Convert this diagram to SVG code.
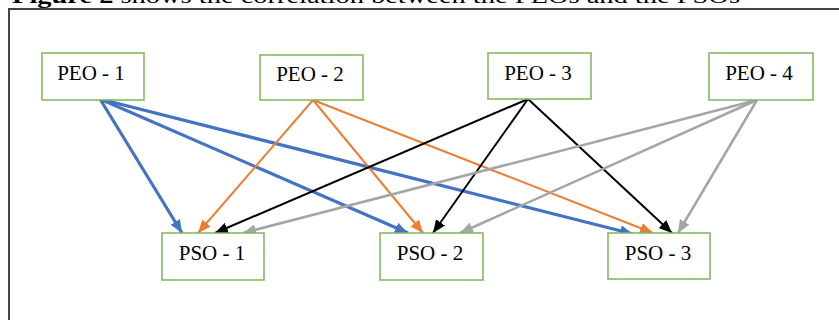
<svg xmlns="http://www.w3.org/2000/svg" width="839" height="320" viewBox="0 0 839 320">
<style>
.box{fill:#fff;stroke:#7DB55A;stroke-width:1.5}
.lbl{font-family:"Liberation Serif","Times New Roman",serif;font-size:21px;fill:#000;text-anchor:middle}
.title{font-family:"Liberation Serif","Times New Roman",serif;font-size:22px;fill:#000}
.b{stroke:#4472C4;stroke-width:3.2;fill:none;marker-end:url(#ab)}
.o{stroke:#ED7D31;stroke-width:2;fill:none;marker-end:url(#ao)}
.k{stroke:#000;stroke-width:2;fill:none;marker-end:url(#ak)}
.g{stroke:#A5A5A5;stroke-width:2.5;fill:none;marker-end:url(#ag)}
</style>
<defs>
<marker id="ab" markerUnits="userSpaceOnUse" markerWidth="14" markerHeight="11" refX="13" refY="5.5" orient="auto"><path d="M0,0 L13,5.5 L0,11 z" fill="#4472C4"/></marker>
<marker id="ao" markerUnits="userSpaceOnUse" markerWidth="14" markerHeight="11" refX="13" refY="5.5" orient="auto"><path d="M0,0 L13,5.5 L0,11 z" fill="#ED7D31"/></marker>
<marker id="ak" markerUnits="userSpaceOnUse" markerWidth="14" markerHeight="11" refX="13" refY="5.5" orient="auto"><path d="M0,0 L13,5.5 L0,11 z" fill="#000"/></marker>
<marker id="ag" markerUnits="userSpaceOnUse" markerWidth="14" markerHeight="11" refX="13" refY="5.5" orient="auto"><path d="M0,0 L13,5.5 L0,11 z" fill="#A5A5A5"/></marker>
</defs>
<rect width="839" height="320" fill="#fff"/>
<text class="title" x="12" y="3" textLength="728" lengthAdjust="spacingAndGlyphs"><tspan font-weight="bold">Figure 2</tspan> shows the correlation between the PEOs and the PSOs</text>
<path d="M9,320 L9,9 L839,9" fill="none" stroke="#444" stroke-width="2"/>
<g id="connectors">
<line class="b" x1="100" y1="99" x2="182" y2="233"/>
<line class="b" x1="100" y1="99" x2="408" y2="233"/>
<line class="b" x1="100" y1="99" x2="633" y2="234"/>
<line class="o" x1="313" y1="100" x2="198" y2="233"/>
<line class="o" x1="313" y1="100" x2="423" y2="233"/>
<line class="o" x1="313" y1="100" x2="653" y2="233"/>
<line class="k" x1="528" y1="99" x2="215" y2="233"/>
<line class="k" x1="528" y1="99" x2="433" y2="233"/>
<line class="k" x1="528" y1="99" x2="672" y2="233"/>
<line class="g" x1="757" y1="100" x2="243" y2="233"/>
<line class="g" x1="757" y1="100" x2="460" y2="233"/>
<line class="g" x1="757" y1="100" x2="678" y2="233"/>
</g>
<g id="peo1"><rect class="box" x="42" y="53" width="102" height="47"/><text class="lbl" x="91" y="80">PEO - 1</text></g>
<g id="peo2"><rect class="box" x="260" y="55" width="103" height="45"/><text class="lbl" x="310" y="81">PEO - 2</text></g>
<g id="peo3"><rect class="box" x="488" y="53" width="103" height="46"/><text class="lbl" x="538" y="80">PEO - 3</text></g>
<g id="peo4"><rect class="box" x="709" y="53" width="104" height="47"/><text class="lbl" x="759" y="80">PEO - 4</text></g>
<g id="pso1"><rect class="box" x="162" y="233" width="102" height="47"/><text class="lbl" x="212" y="260">PSO - 1</text></g>
<g id="pso2"><rect class="box" x="380" y="233" width="103" height="47"/><text class="lbl" x="430" y="260">PSO - 2</text></g>
<g id="pso3"><rect class="box" x="608" y="233" width="102" height="46"/><text class="lbl" x="658" y="260">PSO - 3</text></g>
</svg>
